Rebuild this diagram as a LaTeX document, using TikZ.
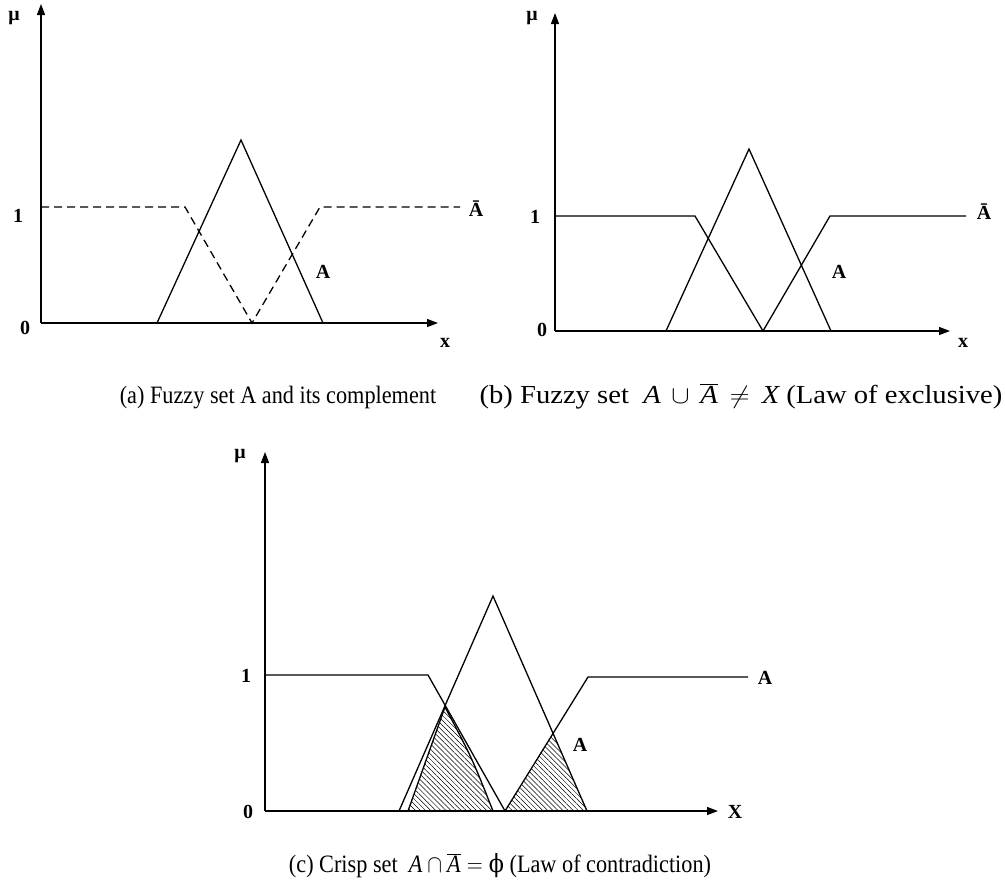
\documentclass[tikz,border=0pt]{standalone}
\usepackage{fontspec}
\setmainfont{Liberation Serif}
\newfontfamily\phifont{DejaVu Serif}
\usetikzlibrary{arrows.meta,patterns.meta}
\begin{document}
\begin{tikzpicture}[x=1pt,y=-1pt,
  curve/.style={line width=1.3pt,line join=miter},
  axis/.style={line width=1.3pt,-{Triangle[length=11pt,width=8pt]}},
  dsh/.style={curve,dash pattern=on 8pt off 5pt},
  lbl/.style={font=\fontsize{20}{20}\selectfont\bfseries,inner sep=0pt},
  captxt/.style={font=\fontsize{25}{25}\selectfont,inner sep=0pt,anchor=base},
  hatch/.style={pattern={Lines[angle=-45,distance=3.6pt,line width=0.5pt]}}]
\useasboundingbox (0,0) rectangle (1005,894);

% ---------- panel (a) ----------
\coordinate (ao) at (41,323);
\coordinate (ay) at (41,4);
\coordinate (ax) at (438,323);
\draw[axis] (ao) -- (ay);
\draw[axis] (ao) -- (ax);
\draw[curve] (157,323) -- (241,140) -- (323,323);
\draw[dsh] (41,207) -- (185,207) -- (252,323) -- (320,207) -- (460,207);
\node[lbl] (amu) at (14,18) {μ};
\node[lbl] (a1) at (18,216) {1};
\node[lbl] (a0) at (25,328) {0};
\node[lbl] (ax1) at (445,343) {x};
\node[lbl] (aA) at (323,272) {A};
\node[lbl] (aAb) at (476,209) {Ā};
\node[captxt] (capa) at (278,403) {\scalebox{0.89}[1]{(a) Fuzzy set A and its complement}};

% ---------- panel (b) ----------
\coordinate (bo) at (555,331);
\coordinate (by) at (555,13);
\coordinate (bx) at (950,331);
\draw[axis] (bo) -- (by);
\draw[axis] (bo) -- (bx);
\draw[curve] (666,331) -- (749,149) -- (831,331);
\draw[curve] (555,216) -- (695,216) -- (763,331) -- (830,216) -- (966,216);
\node[lbl] (bmu) at (532,18) {μ};
\node[lbl] (b1) at (535,217) {1};
\node[lbl] (b0) at (542,330) {0};
\node[lbl] (bx1) at (963,343) {x};
\node[lbl] (bA) at (839,272) {A};
\node[lbl] (bAb) at (984,212) {Ā};
\node[captxt,font=\fontsize{26}{26}\selectfont] (capb) at (741,403) {\scalebox{1.1}[1]{(b) Fuzzy set \ $\textit{A}\,\cup\,\overline{\textit{A}}\,\neq\,\textit{X}$ (Law of exclusive)}};

% ---------- panel (c) ----------
\coordinate (co) at (265,811);
\coordinate (cy) at (265,452);
\coordinate (cx) at (718,811);
\fill[hatch] (408,811) -- (445,707) .. controls (472,758) .. (493,811) -- cycle;
\fill[hatch] (505,811) -- (553,733) -- (587,811) -- cycle;
\draw[curve] (408,811) -- (445,707) .. controls (472,758) .. (493,811);
\draw[axis] (co) -- (cy);
\draw[axis] (co) -- (cx);
\draw[curve] (399,811) -- (493,596) -- (587,811);
\draw[curve] (265,675) -- (428,675) -- (505,811) -- (588,677) -- (748,677);
\node[lbl] (cmu) at (240,456) {μ};
\node[lbl] (c1) at (246,676) {1};
\node[lbl] (c0) at (248,812) {0};
\node[lbl] (cx1) at (735,812) {X};
\node[lbl] (cA) at (580,745) {A};
\node[lbl] (cAr) at (765,678) {A};
\node[captxt] (capc) at (500,872) {\scalebox{0.89}[1]{(c) Crisp set \ $\textit{A}\cap\overline{\textit{A}}=\mbox{\phifont ϕ}$ (Law of contradiction)}};
\end{tikzpicture}
\end{document}
